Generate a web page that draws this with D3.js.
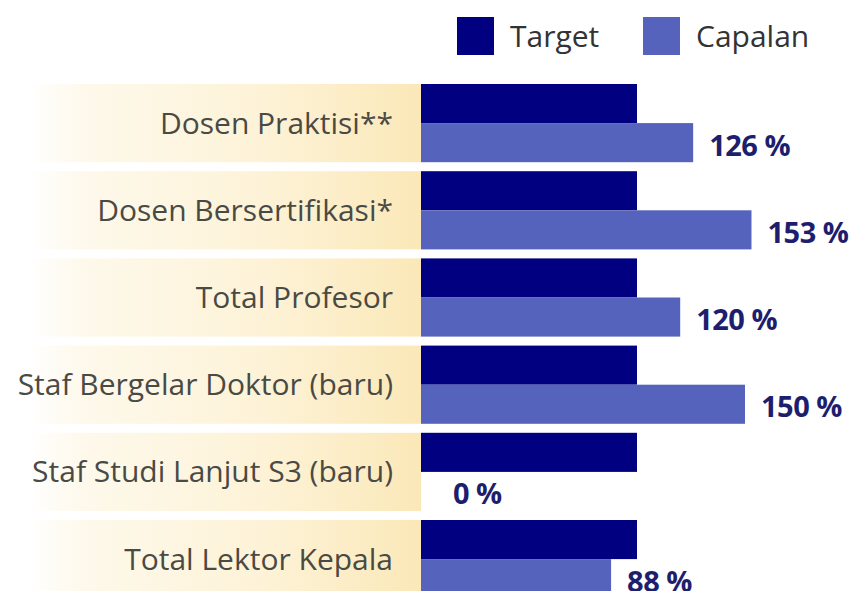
<!DOCTYPE html>
<html lang="en">
<head>
<meta charset="utf-8">
<title>Target vs Capalan</title>
<script src="https://cdn.jsdelivr.net/npm/d3@7/dist/d3.min.js"></script>
<style>
  html, body { margin: 0; padding: 0; background: #fff; }
  svg { display: block; font-family: "Open Sans", sans-serif; }
</style>
</head>
<body>
<script>
// data (percent of target)
var categories = ["Dosen Praktisi**", "Dosen Bersertifikasi*", "Total Profesor",
                  "Staf Bergelar Doktor (baru)", "Staf Studi Lanjut S3 (baru)", "Total Lektor Kepala"];
var seriesNames = ["Target", "Capalan"];
var targetValues = [100, 100, 100, 100, 100, 100];
var capaianValues = [126, 153, 120, 150, 0, 88];
var colors = ["#000080", "#5563bc"];

var width = 851, height = 591;

var svg = d3.select("body").append("svg").attr("width", width).attr("height", height);

var rows = categories.map(function(c, i) {
  return { name: c, values: [targetValues[i], capaianValues[i]] };
});

var x = d3.scaleLinear().domain([0, 100]).range([421, 637]);

var step = 87.2, gap = 9;
var y = d3.scaleBand()
  .domain(categories)
  .range([84 - gap / 2, 84 - gap / 2 + step * categories.length])
  .paddingInner(gap / step)
  .paddingOuter(gap / step / 2);

var ySub = d3.scaleBand().domain(seriesNames).range([0, y.bandwidth()]);

var color = d3.scaleOrdinal().domain(seriesNames).range(colors);

// pale yellow band behind each label, fading out to the left
var grad = svg.append("defs").append("linearGradient")
  .attr("id", "band").attr("gradientUnits", "userSpaceOnUse")
  .attr("x1", 30).attr("x2", 421).attr("y1", 0).attr("y2", 0);
grad.append("stop").attr("offset", 0).attr("stop-color", "#fdf2d6").attr("stop-opacity", 0);
grad.append("stop").attr("offset", 0.15).attr("stop-color", "#fdf4dc").attr("stop-opacity", 0.6);
grad.append("stop").attr("offset", 0.6).attr("stop-color", "#fdf1d2").attr("stop-opacity", 0.9);
grad.append("stop").attr("offset", 1).attr("stop-color", "#fbe8b8").attr("stop-opacity", 1);

var row = svg.selectAll("g.row").data(rows).enter().append("g")
  .attr("class", "row")
  .attr("transform", function(d) { return "translate(0," + y(d.name) + ")"; });

row.append("rect")
  .attr("x", 30).attr("width", 421 - 30)
  .attr("y", 0).attr("height", y.bandwidth())
  .style("fill", "url(#band)");

row.append("text")
  .attr("x", 393)
  .attr("y", ySub("Target") + ySub.bandwidth())
  .attr("dy", "0.35em")
  .attr("text-anchor", "end")
  .style("font-size", "30px")
  .style("fill", "#4a4a44")
  .text(function(d) { return d.name; });

row.selectAll("rect.bar").data(function(d) {
    return seriesNames.map(function(s, j) { return { key: s, value: d.values[j] }; });
  }).enter().append("rect")
  .attr("class", "bar")
  .attr("x", x(0))
  .attr("y", function(d) { return ySub(d.key); })
  .attr("width", function(d) { return x(d.value) - x(0); })
  .attr("height", ySub.bandwidth())
  .style("fill", function(d) { return color(d.key); });

row.append("text")
  .attr("x", function(d) { return Math.max(x(d.values[1]), x(0) + 16) + 16; })
  .attr("y", ySub("Capalan") + ySub.bandwidth() / 2)
  .attr("dy", "0.45em")
  .style("font-size", "29px")
  .style("font-weight", "bold")
  .style("letter-spacing", "-0.5px")
  .style("fill", "#1e1e6e")
  .text(function(d) { return d.values[1] + " %"; });

// legend
var legendX = [457, 643];
var legend = svg.selectAll("g.legend").data(seriesNames).enter().append("g")
  .attr("class", "legend")
  .attr("transform", function(d, i) { return "translate(" + legendX[i] + ",17)"; });

legend.append("rect")
  .attr("width", 37).attr("height", 38)
  .style("fill", function(d) { return color(d); });

legend.append("text")
  .attr("x", 53).attr("y", 19).attr("dy", "0.35em")
  .style("font-size", "30px")
  .style("fill", "#333")
  .text(function(d) { return d; });
</script>
</body>
</html>
